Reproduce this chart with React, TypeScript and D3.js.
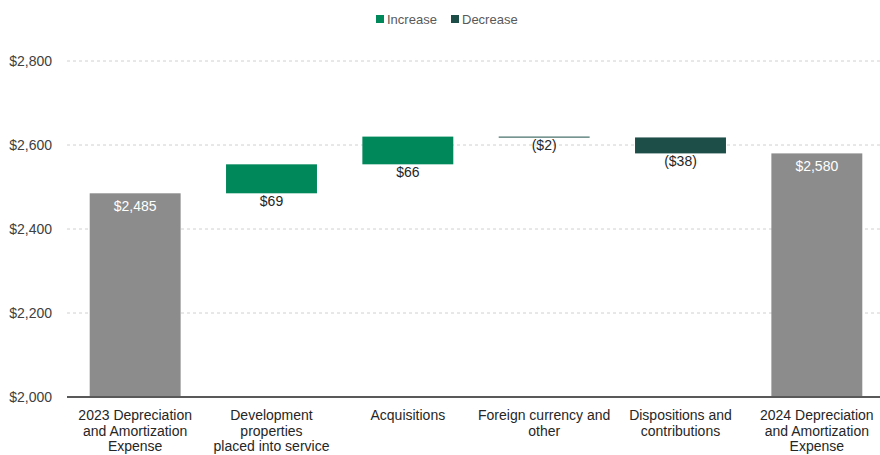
import React from "react";
import * as d3 from "d3";

const categories = [
  ["2023 Depreciation", "and Amortization", "Expense"],
  ["Development", "properties", "placed into service"],
  ["Acquisitions"],
  ["Foreign currency and", "other"],
  ["Dispositions and", "contributions"],
  ["2024 Depreciation", "and Amortization", "Expense"],
];
const kinds = ["total", "delta", "delta", "delta", "delta", "total"];
const values = [2485, 69, 66, -2, -38, 2580];
const labels = ["$2,485", "$69", "$66", "($2)", "($38)", "$2,580"];
const yTicks = [2000, 2200, 2400, 2600, 2800];
const legendItems = ["Increase", "Decrease"];

const W = 880;
const H = 455;
const COLORS = { total: "#8c8c8c", inc: "#00875a", dec: "#1d4e48" };
const FONT = "Liberation Sans, Arial, sans-serif";

export default function App() {
  const x = d3
    .scaleBand<number>()
    .domain(categories.map((_, i) => i))
    .range([67, 885])
    .paddingInner(0.333)
    .paddingOuter(0.1665);
  const y = d3.scaleLinear().domain([2000, 2800]).range([397, 61]);

  let running = 0;
  const bars = values.map((v, i) => {
    let y0: number, y1: number, color: string;
    if (kinds[i] === "total") {
      y0 = 2000;
      y1 = v;
      running = v;
      color = COLORS.total;
    } else {
      y0 = running;
      y1 = running + v;
      running = y1;
      color = v >= 0 ? COLORS.inc : COLORS.dec;
    }
    return { i, lo: Math.min(y0, y1), hi: Math.max(y0, y1), color, kind: kinds[i] };
  });

  return (
    <svg width={W} height={H} style={{ position: "absolute", left: 0, top: 0 }} fontFamily={FONT}>
      {/* legend */}
      <g>
        <rect x={376} y={15} width={8} height={8} fill={COLORS.inc} />
        <text x={387} y={23.5} fontSize={13} fill="#595959">{legendItems[0]}</text>
        <rect x={451} y={15} width={8} height={8} fill={COLORS.dec} />
        <text x={462} y={23.5} fontSize={13} fill="#595959">{legendItems[1]}</text>
      </g>
      {/* grid + y labels */}
      {yTicks.map((t) => (
        <g key={t}>
          {t !== 2000 && (
            <line x1={67} x2={880} y1={y(t)} y2={y(t)} stroke="#d0d0d0" strokeDasharray="3,3" strokeWidth={1} />
          )}
          <text x={52} y={y(t) + 5} fontSize={14} fill="#404040" textAnchor="end">
            {"$" + d3.format(",")(t)}
          </text>
        </g>
      ))}
      {/* bars */}
      {bars.map((b) => {
        const top = y(b.hi);
        const h = Math.max(1, y(b.lo) - y(b.hi));
        return (
          <rect key={b.i} x={x(b.i)} y={top} width={x.bandwidth()} height={h} fill={b.color} />
        );
      })}
      {/* value labels */}
      {bars.map((b) => {
        const cx = (x(b.i) as number) + x.bandwidth() / 2;
        if (b.kind === "total") {
          return (
            <text key={b.i} x={cx} y={y(b.hi) + 17.5} fontSize={14} fill="#ffffff" textAnchor="middle">
              {labels[b.i]}
            </text>
          );
        }
        return (
          <text key={b.i} x={cx} y={y(b.lo) + 13} fontSize={14} fill="#262626" textAnchor="middle">
            {labels[b.i]}
          </text>
        );
      })}
      {/* axis line */}
      <line x1={67} x2={880} y1={397} y2={397} stroke="#595959" strokeWidth={2} />
      {/* category labels */}
      {categories.map((lines, i) => {
        const cx = (x(i) as number) + x.bandwidth() / 2;
        return (
          <text key={i} x={cx} y={420} fontSize={14} fill="#262626" textAnchor="middle">
            {lines.map((l, j) => (
              <tspan key={j} x={cx} dy={j === 0 ? 0 : 15.5}>
                {l}
              </tspan>
            ))}
          </text>
        );
      })}
    </svg>
  );
}
